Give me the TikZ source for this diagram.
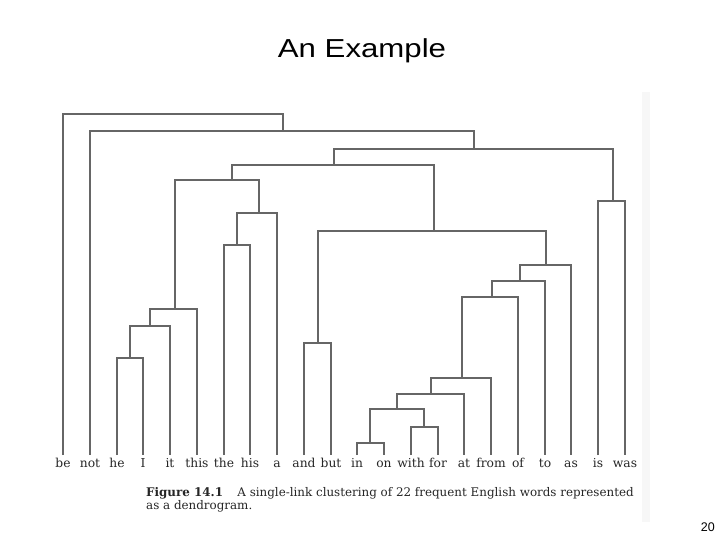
\documentclass[tikz,border=0pt]{standalone}
\usepackage{fontspec}
\setmainfont{DejaVu Serif}
\newfontfamily\titlefont{Liberation Sans}
\newfontfamily\bookfont{DejaVu Serif}
\begin{document}
\begin{tikzpicture}[x=1pt,y=-1pt,
  ln/.style={draw=black!60,line width=2pt},
  lab/.style={font=\bookfont\fontsize{12.3}{14}\selectfont,text=black!85,anchor=base,inner sep=0pt},
  captext/.style={font=\bookfont\fontsize{11.9}{13}\selectfont,text=black!85,anchor=base west,inner sep=0pt}]
\useasboundingbox (0,0) rectangle (720,540);
\fill[black!3] (642,92) rectangle (650,522);
% title and page number
\node[font=\titlefont\fontsize{26}{30}\selectfont,anchor=base,inner sep=0pt] (title) at (362,57.5) {\scalebox{1.2}[1]{An Example}};
\node[font=\titlefont\fontsize{12.5}{14}\selectfont,anchor=base east,inner sep=0pt] (page) at (715,531.5) {20};
\begin{scope}[shift={(-0.5,-0.5)}]
% leaves
\foreach \w [count=\i from 0] in {be,not,he,I,it,this,the,his,a,and,but,in,on,with,for,at,from,of,to,as,is,was}{
  \pgfmathsetmacro{\xx}{round(63+26.75*\i)+0.5}
  \coordinate (l-\w) at (\xx,455.5);
  \node[lab] (w-\w) at (\xx,468) {\w};
}
% merge points
\coordinate (m1) at (130.5,358.5);
\coordinate (m2) at (150.5,326.5);
\coordinate (m3) at (175.5,309.5);
\coordinate (m4) at (237.5,245.5);
\coordinate (m5) at (259.5,213.5);
\coordinate (m6) at (232.5,180.5);
\coordinate (m7) at (318.5,343.5);
\coordinate (m8) at (370.5,443.5);
\coordinate (m9) at (424.5,427.5);
\coordinate (m10) at (397.5,409.5);
\coordinate (m11) at (431.5,394.5);
\coordinate (m12) at (462.5,378.5);
\coordinate (m13) at (492.5,297.5);
\coordinate (m14) at (520.5,281.5);
\coordinate (m15) at (546.5,265.5);
\coordinate (m16) at (434.5,231.5);
\coordinate (m17) at (334.5,165.5);
\coordinate (m18) at (613.5,201.5);
\coordinate (m19) at (474.5,149.5);
\coordinate (m20) at (283.5,131.5);
\coordinate (m21) at (170.5,114.5);
% brackets
\draw[ln] (l-he) |- (m1) -| (l-I);
\draw[ln] (m1) |- (m2) -| (l-it);
\draw[ln] (m2) |- (m3) -| (l-this);
\draw[ln] (l-the) |- (m4) -| (l-his);
\draw[ln] (m4) |- (m5) -| (l-a);
\draw[ln] (m3) |- (m6) -| (m5);
\draw[ln] (l-and) |- (m7) -| (l-but);
\draw[ln] (l-in) |- (m8) -| (l-on);
\draw[ln] (l-with) |- (m9) -| (l-for);
\draw[ln] (m8) |- (m10) -| (m9);
\draw[ln] (m10) |- (m11) -| (l-at);
\draw[ln] (m11) |- (m12) -| (l-from);
\draw[ln] (m12) |- (m13) -| (l-of);
\draw[ln] (m13) |- (m14) -| (l-to);
\draw[ln] (m14) |- (m15) -| (l-as);
\draw[ln] (m7) |- (m16) -| (m15);
\draw[ln] (m6) |- (m17) -| (m16);
\draw[ln] (l-is) |- (m18) -| (l-was);
\draw[ln] (m17) |- (m19) -| (m18);
\draw[ln] (l-not) |- (m20) -| (m19);
\draw[ln] (l-be) |- (m21) -| (m20);
\end{scope}
% caption
\node[captext] (cap1) at (146,496) {\textbf{Figure 14.1}\hspace{1.2em}A single-link clustering of 22 frequent English words represented};
\node[captext] (cap2) at (146,509) {as a dendrogram.};
\end{tikzpicture}
\end{document}
